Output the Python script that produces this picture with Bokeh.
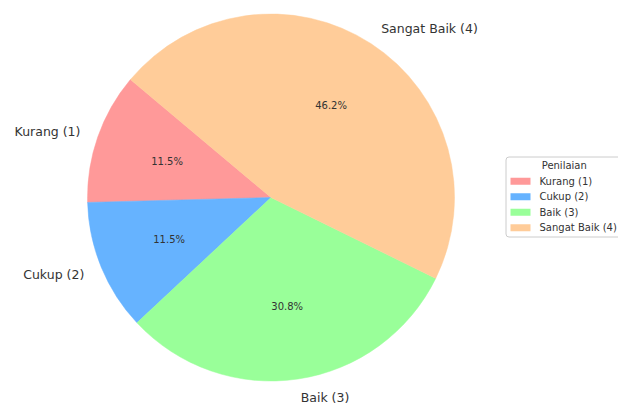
import math
from bokeh.plotting import figure
from bokeh.models import ColumnDataSource, Range1d
from bokeh.core.properties import value
from bokeh.embed import file_html
from bokeh.resources import INLINE

# ---- data ----
categories = ["Kurang (1)", "Cukup (2)", "Baik (3)", "Sangat Baik (4)"]
counts = [3, 3, 8, 12]
colors = ["#ff9999", "#66b3ff", "#99ff99", "#ffcc99"]
legend_title = "Penilaian"

# ---- layout (pixel-like data space, y measured from bottom) ----
W, H = 618, 404
CX, CY, R = 270.5, 207.0, 183.5
START_DEG = 140.0
FONT = "DejaVu Sans"
TXT = "#333333"

total = float(sum(counts))
fracs = [c / total for c in counts]
starts, ends, mids = [], [], []
acc = START_DEG
for f in fracs:
    a0 = acc
    a1 = acc + 360.0 * f
    starts.append(math.radians(a0))
    ends.append(math.radians(a1))
    mids.append(math.radians((a0 + a1) / 2))
    acc = a1

lab_x, lab_y, lab_align = [], [], []
pct_x, pct_y, pct_text = [], [], []
for m, f in zip(mids, fracs):
    lab_x.append(CX + 1.1 * R * math.cos(m))
    lab_y.append(CY + 1.1 * R * math.sin(m))
    lab_align.append("right" if math.cos(m) < 0 else "left")
    pct_x.append(CX + 0.6 * R * math.cos(m))
    pct_y.append(CY + 0.6 * R * math.sin(m))
    pct_text.append("%.1f%%" % (f * 100))

src = ColumnDataSource(dict(cat=categories, start=starts, end=ends, color=colors))

p = figure(width=W, height=H, output_backend="svg", toolbar_location=None,
           x_range=Range1d(0, W), y_range=Range1d(0, H),
           x_axis_type=None, y_axis_type=None, min_border=0)
p.grid.visible = False
p.outline_line_color = None
p.background_fill_color = "white"
p.border_fill_color = "white"

p.wedge(x=CX, y=CY, radius=R, start_angle="start", end_angle="end",
        fill_color="color", line_color="color", line_width=0.5, source=src)

p.text(x=lab_x, y=lab_y, text=categories, text_align=lab_align,
       text_baseline="middle", text_font=value(FONT), text_font_size="12.5px",
       text_color=TXT)
p.text(x=pct_x, y=pct_y, text=pct_text, text_align="center",
       text_baseline="middle", text_font=value(FONT), text_font_size="10px",
       text_color=TXT)

# ---- legend (drawn manually to match placement) ----
LX0, LX1, LY0, LY1 = 505.5, 622.0, 167.5, 247.5
p.quad(left=[LX0], right=[LX1], bottom=[LY0], top=[LY1],
       fill_color="white", fill_alpha=0.8, line_color="#cccccc", line_width=1,
       border_radius=3)
p.text(x=[(LX0 + LX1) / 2], y=[239.0], text=[legend_title], text_align="center",
       text_baseline="middle", text_font=value(FONT), text_font_size="10px",
       text_color=TXT)
item_y = [223.2, 207.7, 192.2, 176.7]
p.quad(left=[510] * 4, right=[530] * 4,
       bottom=[y - 3.5 for y in item_y], top=[y + 3.5 for y in item_y],
       fill_color=colors, line_color=None)
p.text(x=[539] * 4, y=item_y, text=categories, text_align="left",
       text_baseline="middle", text_font=value(FONT), text_font_size="10px",
       text_color=TXT)

open("out.html", "w").write(file_html(p, INLINE))
